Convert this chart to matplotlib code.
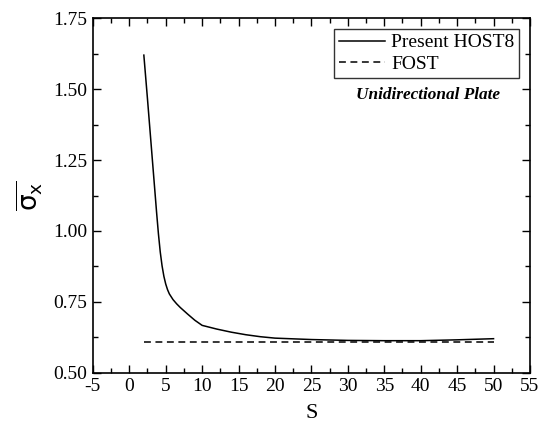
import numpy as np
import matplotlib.pyplot as plt
from matplotlib.ticker import MultipleLocator

plt.rcParams['font.family'] = 'Liberation Serif'
plt.rcParams['mathtext.fontset'] = 'dejavusans'
plt.rcParams['axes.unicode_minus'] = False

# span-to-thickness ratio S
s_host8 = [2, 2.5, 3, 3.5, 3.75, 4, 4.25, 4.5, 4.75, 5, 5.25, 5.5, 6, 6.5, 7, 8,
           9, 10, 12, 14, 16, 18, 20, 25, 30, 35, 40, 45, 50]
sx_host8 = [1.62, 1.465, 1.305, 1.145, 1.065, 0.99, 0.926, 0.877, 0.84, 0.813,
            0.793, 0.778, 0.758, 0.743, 0.730, 0.707, 0.685, 0.667, 0.654,
            0.643, 0.634, 0.627, 0.622, 0.617, 0.614, 0.613, 0.613, 0.616, 0.620]
s_fost = [2, 50]
sx_fost = [0.607, 0.607]

fig = plt.figure(figsize=(5.43, 4.25), dpi=100)
ax = fig.add_axes([0.171, 0.123, 0.805, 0.834])

ax.plot(s_host8, sx_host8, color='black', lw=1.1, label='Present HOST8')
ax.plot(s_fost, sx_fost, color='black', lw=1.1, dashes=(4.5, 3), label='FOST')

ax.set_xlim(-5, 55)
ax.set_ylim(0.5, 1.75)
ax.xaxis.set_major_locator(MultipleLocator(5))
ax.xaxis.set_minor_locator(MultipleLocator(2.5))
ax.yaxis.set_minor_locator(MultipleLocator(0.125))
ax.set_yticks([0.5, 0.75, 1.0, 1.25, 1.5, 1.75])
ax.set_yticklabels(['0.50', '0.75', '1.00', '1.25', '1.50', '1.75'])
ax.tick_params(which='both', direction='in', top=True, right=True, labelsize=14, width=1.0)
ax.tick_params(which='major', length=6, pad=4)
ax.tick_params(which='minor', length=3.5)
for sp in ax.spines.values():
    sp.set_linewidth(1.2)

ax.set_xlabel('S', fontsize=16, labelpad=6)
ax.set_ylabel(r'$\overline{\mathrm{\sigma}_{\mathrm{x}}}$', fontsize=19, labelpad=6)

leg = ax.legend(loc='upper right', fontsize=14, frameon=True, fancybox=False,
                edgecolor='black', handlelength=2.4, handletextpad=0.3,
                borderpad=0.25, labelspacing=0.2, borderaxespad=0.55)
leg.get_frame().set_linewidth(1.0)

ax.text(0.767, 0.784, 'Unidirectional Plate', transform=ax.transAxes,
        fontsize=12.4, fontweight='bold', fontstyle='italic', ha='center', va='center')

fig.savefig('out.png', dpi=100)
